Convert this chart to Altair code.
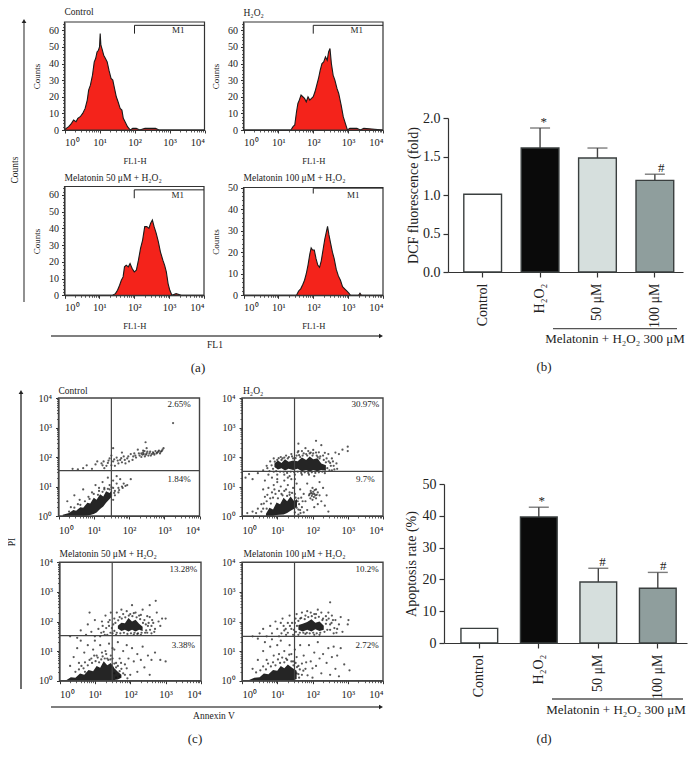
import altair as alt
import pandas as pd

SERIF = "Liberation Serif"
DARK = "#333333"

# ---------- (a) histograms: x = log10(FL1-H), y = counts ----------
H1_X = [0,0.05,0.12,0.2,0.26,0.33,0.38,0.45,0.52,0.59,0.65,0.69,0.74,0.8,0.85,0.89,0.93,0.97,1.0,1.02,1.04,1.07,1.12,1.17,1.22,1.27,1.33,1.38,1.42,1.48,1.53,1.59,1.64,1.68,1.73,1.8,1.88,1.95,2.05,2.15,2.3,2.45,2.6,2.7,4]
H1_Y = [0,1,2,4,6,5,7,8,10,13,18,24,27,33,41,43,47,48,50,58,51,49,45,43,41,36,31,30,26,20,17,13,12,7,5,2,0,1,1,0,1,1,1,0,0]
H2_X = [0,1.36,1.42,1.47,1.52,1.56,1.6,1.65,1.7,1.75,1.8,1.85,1.9,1.95,2.0,2.05,2.1,2.15,2.2,2.25,2.3,2.35,2.4,2.44,2.48,2.52,2.57,2.62,2.68,2.73,2.8,2.86,2.92,2.98,3.05,3.15,3.25,3.35,3.45,4]
H2_Y = [0,0,2,3,11,16,18,21,20,19,17,20,18,19,20,23,27,31,36,40,41,44,42,47,49,40,33,30,25,22,15,8,4,0,1,1,1,0,1,0]
H3_X = [0,1.38,1.46,1.52,1.58,1.63,1.68,1.72,1.77,1.83,1.88,1.94,2.0,2.06,2.12,2.18,2.24,2.3,2.36,2.42,2.47,2.52,2.57,2.63,2.69,2.75,2.82,2.87,2.92,2.97,3.02,3.08,3.2,3.35,4]
H3_Y = [0,0,1,3,6,9,11,17,18,17,19,16,14,15,21,28,33,41,41,40,43,45,41,37,32,26,21,18,14,7,3,0,1,0,0]
H4_X = [0,1.52,1.58,1.64,1.7,1.75,1.8,1.85,1.9,1.94,1.98,2.03,2.08,2.13,2.18,2.23,2.28,2.33,2.37,2.41,2.45,2.5,2.55,2.6,2.66,2.72,2.78,2.84,2.9,2.96,3.02,3.07,3.3,3.34,3.38,4]
H4_Y = [0,0,2,3,5,7,10,14,19,22,21,21,17,14,13,16,21,26,29,32,28,24,20,17,12,9,7,4,3,2,1,0,0,1,0,0]

# ---------- (b), (d) bars ----------
GROUPS = ["Control", "H₂O₂", "50 μM", "100 μM"]
BAR_COLORS = ["#ffffff", "#0a0a0a", "#d6dfdd", "#8f9e9d"]
B_VAL = [1.01, 1.61, 1.48, 1.19]
B_TOP = [None, 1.87, 1.61, 1.27]
B_MARK = ["", "*", "", "#"]
D_VAL = [4.6, 39.6, 19.2, 17.2]
D_TOP = [None, 42.7, 23.5, 22.2]
D_MARK = ["", "*", "#", "#"]

# ---------- (c) dot plots: log10(Annexin V), log10(PI) ----------
# dense masses as envelopes (x, lower, upper)
C1_CORE = [[(0.12,0,0.04),(0.3,0,0.1),(0.42,0,0.2),(0.5,0,0.18),(0.62,0,0.3),(0.7,0,0.28),(0.82,0.01,0.45),(0.9,0.03,0.42),(1.0,0.07,0.62),(1.08,0.12,0.55),(1.18,0.24,0.74),(1.27,0.32,0.66),(1.35,0.45,0.84),(1.45,0.58,0.78),(1.52,0.66,0.9)]]
C2_CORE = [[(0.68,0,0.08),(0.78,0,0.28),(0.88,0,0.22),(0.98,0.03,0.46),(1.08,0.04,0.4),(1.18,0.05,0.62),(1.28,0.1,0.5),(1.38,0.18,0.66),(1.48,0.25,0.5),(1.56,0.32,0.58)],
           [(0.92,1.66,1.78),(1.02,1.58,1.88),(1.12,1.62,1.8),(1.22,1.54,1.92),(1.32,1.6,1.84),(1.45,1.56,1.88),(1.58,1.6,1.86),(1.7,1.52,1.98),(1.82,1.56,1.9),(1.92,1.5,2.02),(2.02,1.56,1.92),(2.14,1.52,1.96),(2.25,1.56,1.78),(2.38,1.53,1.72)]]
C3_CORE = [[(0.2,0,0.02),(0.32,0,0.12),(0.45,0,0.1),(0.58,0,0.24),(0.7,0,0.2),(0.82,0,0.36),(0.95,0,0.32),(1.05,0,0.5),(1.15,0,0.44),(1.25,0,0.66),(1.35,0,0.52),(1.45,0,0.6),(1.55,0.02,0.42),(1.65,0.04,0.3),(1.75,0.1,0.2)],
           [(1.65,1.76,1.86),(1.75,1.68,1.96),(1.85,1.72,1.94),(1.95,1.66,2.12),(2.05,1.72,2.0),(2.15,1.66,2.06),(2.25,1.72,1.92),(2.35,1.68,1.82)]]
C4_CORE = [[(0.2,0,0.02),(0.35,0,0.1),(0.5,0,0.12),(0.62,0,0.24),(0.75,0,0.22),(0.88,0,0.36),(1.0,0,0.34),(1.1,0,0.5),(1.2,0,0.42),(1.3,0,0.55),(1.42,0,0.44),(1.55,0.06,0.34)],
           [(1.6,1.72,1.88),(1.72,1.66,1.92),(1.85,1.72,1.98),(1.97,1.66,2.08),(2.08,1.74,1.96),(2.2,1.68,2.0),(2.32,1.72,1.86)]]

C1_DOTS = [(0.4,1.6),(0.55,1.58),(0.7,1.62),(0.8,1.72),(0.95,1.6),(1.05,1.75),(1.1,1.85),(1.25,1.72),(1.3,1.62),(1.4,1.8),(1.45,1.95),(1.5,1.72),(1.55,1.85),(1.6,1.7),(1.65,1.98),(1.7,1.78),(1.75,1.9),(1.8,1.82),(1.85,2.02),(1.9,1.78),(1.95,1.95),(2.0,1.85),(2.05,2.1),(2.1,1.9),(2.15,2.12),(2.2,1.98),(2.25,2.25),(2.3,2.05),(2.35,2.0),(2.4,2.15),(2.42,2.1),(2.45,2.02),(2.5,2.3),(2.5,2.12),(2.55,2.05),(2.6,2.18),(2.65,2.1),(2.7,2.12),(2.75,2.2),(2.8,2.15),(2.85,2.22),(2.9,2.18),(2.95,2.25),(2.98,2.3),(3.25,3.15),(2.47,2.5),(1.55,2.3),(1.5,2.05),(1.8,2.15),
(1.22,1.78),(1.28,1.85),(1.36,1.7),(1.42,1.88),(1.58,1.92),(1.68,1.88),(1.78,1.96),(1.88,1.9),(1.98,2.02),(2.12,2.02),(2.18,2.05),(2.28,2.12),(2.38,2.08),(2.44,2.2),(2.52,2.18),(2.58,2.12),(2.62,2.05),(2.68,2.16),(2.72,2.08),(2.78,2.12),(2.83,2.18),(2.88,2.12),(2.93,2.2),(2.4,2.22),(2.35,2.12),(2.48,2.08),
(0.3,0.15),(0.25,0.5),(0.45,0.7),(0.6,0.55),(0.7,0.9),(0.85,0.65),(0.95,0.8),(1.05,1.05),(1.15,0.95),(1.25,1.15),(1.3,0.9),(1.4,1.3),(1.45,1.05),(1.55,0.95),(1.55,1.2),(1.6,0.85),(1.65,1.1),(1.7,0.95),(1.75,1.25),(1.8,1.0),(1.85,1.1),(1.95,1.05),(2.05,1.25),(1.6,0.7),(1.7,0.8),(1.55,0.55),(1.65,1.35),(0.55,0.4),(0.35,0.3),(1.0,0.75),(1.15,0.85),(1.3,0.95),(1.45,0.9),(1.12,0.72),(1.25,0.82),(1.4,0.92),(1.5,0.98),(0.75,0.5),(0.62,0.38),(0.45,0.28),(0.88,0.58),(1.58,0.78),(1.72,0.88),(1.82,0.95),(1.9,1.02)]
C2_DOTS = [(0.1,1.3),(0.2,1.42),(0.3,1.25),(0.45,1.45),(0.6,1.55),(0.65,1.2),(0.7,1.7),(0.75,1.4),(0.8,1.85),(0.85,1.3),(0.9,1.5),(0.9,1.95),(1.0,1.9),(1.0,1.4),(1.1,2.0),(1.15,1.95),(1.2,1.4),(1.25,2.05),(1.3,1.95),(1.35,1.35),(1.4,2.1),(1.45,1.95),(1.5,1.4),(1.55,2.05),(1.6,2.2),(1.65,2.0),(1.7,1.4),(1.75,2.12),(1.8,2.3),(1.85,2.05),(1.9,1.4),(1.95,2.15),(2.0,2.05),(2.05,1.35),(2.1,2.15),(2.15,2.0),(2.2,1.95),(2.25,2.4),(2.3,2.05),(2.35,1.45),(2.4,1.95),(2.45,2.1),(2.5,1.8),(2.55,1.95),(2.55,1.55),(2.6,1.7),(2.65,2.15),(2.75,2.1),(2.85,2.25),(3.0,2.2),(3.0,2.35),(2.1,2.55),(1.6,2.45),
(0.72,1.62),(0.78,1.52),(0.84,1.72),(0.88,1.6),(0.93,1.84),(0.97,1.52),(1.04,1.96),(1.08,1.5),(1.12,1.9),(1.18,1.5),(1.2,1.98),(1.28,1.46),(1.33,2.0),(1.38,1.5),(1.42,2.02),(1.48,1.48),(1.52,1.96),(1.58,1.5),(1.62,2.06),(1.68,1.46),(1.72,2.05),(1.78,1.48),(1.82,2.1),(1.88,1.46),(1.92,2.12),(1.98,1.48),(2.02,2.12),(2.08,1.46),(2.12,2.05),(2.18,1.48),(2.22,2.02),(2.28,1.5),(2.32,1.9),(2.38,1.82),(2.42,1.62),(2.46,1.85),(2.48,1.55),(2.52,1.7),(2.58,1.85),(2.62,1.58),(2.68,1.78),(2.7,1.6),(1.58,2.16),(1.7,2.2),(1.88,2.2),(2.02,2.24),(2.18,2.16),(2.35,2.14),
(0.15,0.1),(0.3,0.15),(0.4,0.1),(0.45,0.25),(0.55,0.4),(0.6,0.25),(0.6,0.9),(0.65,0.65),(0.7,0.5),(0.75,0.95),(0.8,0.6),(0.85,0.8),(0.9,1.05),(0.95,0.75),(1.0,1.15),(1.05,0.85),(1.1,1.0),(1.15,0.7),(1.2,1.2),(1.25,0.9),(1.3,1.05),(1.35,0.8),(1.4,1.25),(1.45,0.95),(1.5,0.75),(1.55,1.1),(1.6,0.6),(1.65,0.9),(1.7,0.3),(1.75,0.75),(1.8,0.5),(1.85,1.1),(1.85,0.2),(1.9,0.7),(1.95,0.85),(2.0,0.55),(2.0,0.95),(2.05,0.75),(2.05,0.3),(2.1,0.9),(2.1,0.6),(2.15,0.8),(2.15,0.4),(2.2,1.15),(2.2,0.7),(2.25,0.5),(2.3,0.95),(2.35,0.35),(2.4,0.7),(2.45,0.15),(1.92,0.75),(1.98,0.68),(2.02,0.82),(2.08,0.7),(1.65,0.2),(1.75,0.12),(1.6,0.05),(1.5,1.25),(1.3,1.3),(1.0,1.25),
(0.55,0.15),(0.62,0.42),(0.7,0.25),(0.72,0.72),(0.82,0.42),(0.88,0.62),(0.92,0.9),(1.02,0.6),(1.12,0.75),(1.2,0.85),(1.28,0.68),(1.35,0.72),(1.42,0.78),(1.52,0.62),(1.58,0.5),(1.62,0.4),(1.68,0.62),(1.72,0.5),(1.6,0.22),(1.66,0.1),(1.5,0.12),(1.55,0.28),(1.94,0.6),(1.96,0.78),(2.04,0.64),(2.06,0.88),(2.12,0.72),(2.0,0.75)]
C3_DOTS = [(0.3,1.5),(0.5,1.45),(0.6,1.7),(0.75,1.55),(0.8,1.9),(0.85,2.3),(0.9,1.65),(1.0,1.5),(1.0,2.05),(1.1,1.75),(1.15,1.5),(1.2,2.0),(1.25,1.65),(1.3,2.2),(1.35,1.55),(1.4,1.85),(1.42,2.05),(1.45,2.3),(1.5,1.6),(1.52,1.9),(1.55,2.1),(1.6,1.55),(1.62,2.3),(1.7,2.15),(1.75,2.4),(1.8,2.25),(1.9,2.35),(2.0,2.25),(2.05,2.55),(2.15,2.3),(2.25,2.2),(2.35,2.4),(2.4,2.05),(2.45,1.7),(2.5,1.85),(2.55,2.55),(2.55,2.15),(2.6,1.6),(2.65,1.95),(2.7,1.75),(2.75,2.3),(2.8,2.0),(2.85,1.85),(2.9,2.1),(3.0,2.1),(2.72,2.7),(2.3,1.55),(2.2,1.58),(2.1,1.56),
(1.18,1.62),(1.22,1.85),(1.28,1.55),(1.32,1.78),(1.38,1.98),(1.44,1.62),(1.48,1.78),(1.55,1.68),(1.58,1.95),(1.62,1.62),(1.66,2.04),(1.72,1.6),(1.76,2.1),(1.82,1.62),(1.86,2.14),(1.92,1.58),(1.96,2.2),(2.02,1.6),(2.06,2.18),(2.12,1.62),(2.18,2.14),(2.22,1.6),(2.28,2.08),(2.32,1.62),(2.36,1.95),(2.42,1.62),(2.44,1.9),(2.48,1.62),(2.52,1.95),(2.56,1.72),(2.6,1.85),(2.62,2.05),(2.68,1.65),(2.48,2.18),(2.3,2.22),(2.1,2.28),
(0.3,0.5),(0.4,0.8),(0.5,1.1),(0.55,0.6),(0.6,1.35),(0.7,0.95),(0.8,1.2),(0.9,0.75),(0.95,1.05),(1.0,1.35),(1.05,0.85),(1.15,1.2),(1.2,0.95),(1.3,1.0),(1.35,0.75),(1.4,1.25),(1.45,0.85),(1.55,1.05),(1.6,0.6),(1.65,1.3),(1.7,0.75),(1.75,0.4),(1.8,1.0),(1.85,0.55),(1.9,1.2),(1.95,0.75),(2.0,0.2),(2.05,1.1),(2.1,0.65),(2.2,0.3),(2.2,0.9),(2.3,0.7),(2.35,1.15),(2.4,0.45),(2.5,0.85),(2.55,0.2),(2.6,0.7),(2.7,0.95),(2.85,0.7),(3.0,0.65),(1.55,0.25),(1.6,0.1),(1.7,0.15),(1.5,0.45),
(0.45,0.3),(0.55,0.38),(0.62,0.5),(0.68,0.42),(0.72,0.62),(0.8,0.52),(0.85,0.7),(0.92,0.6),(0.98,0.85),(1.02,0.66),(1.08,0.78),(1.12,0.62),(1.18,0.72),(1.22,0.82),(1.28,0.75),(1.32,0.9),(1.38,0.7),(1.44,0.72),(1.5,0.75),(1.55,0.58),(1.6,0.45),(1.65,0.5),(1.7,0.32),(1.74,0.6),(1.8,0.25),(1.85,0.2),(1.9,0.42),(1.5,1.1),(0.72,0.3),(1.92,0.08)]
C4_DOTS = [(0.3,1.5),(0.45,1.42),(0.5,1.6),(0.6,1.75),(0.7,1.5),(0.8,1.85),(0.85,1.6),(0.95,2.0),(1.0,1.75),(1.05,1.5),(1.1,1.95),(1.15,2.1),(1.2,1.7),(1.25,1.55),(1.3,1.95),(1.35,2.2),(1.4,1.75),(1.45,1.55),(1.5,1.95),(1.52,2.1),(1.55,2.25),(1.6,1.55),(1.65,2.1),(1.7,2.3),(1.8,2.2),(1.85,2.35),(1.95,2.3),(2.05,2.25),(2.15,2.4),(2.25,2.3),(2.3,2.1),(2.4,2.05),(2.45,2.3),(2.5,2.65),(2.5,1.9),(2.55,2.2),(2.6,1.6),(2.65,2.05),(2.7,1.75),(2.75,1.9),(2.8,2.15),(2.85,1.65),(3.0,1.9),(3.02,2.05),(2.05,1.55),(2.2,1.55),(1.8,1.58),
(1.12,1.6),(1.18,1.85),(1.24,1.75),(1.3,1.62),(1.36,1.85),(1.42,1.95),(1.47,1.72),(1.53,1.65),(1.56,1.85),(1.6,2.02),(1.64,1.62),(1.68,2.12),(1.74,1.62),(1.78,2.08),(1.84,1.62),(1.88,2.15),(1.92,1.6),(1.98,2.18),(2.02,1.62),(2.08,2.12),(2.12,1.6),(2.18,2.16),(2.22,1.62),(2.28,2.05),(2.34,1.65),(2.38,1.92),(2.42,1.72),(2.46,2.1),(2.5,1.72),(2.54,1.95),(2.58,2.05),(2.62,1.78),(2.68,1.62),(2.38,2.18),(2.1,2.25),
(0.3,0.4),(0.45,0.7),(0.6,1.0),(0.65,1.3),(0.7,0.7),(0.8,1.15),(0.85,1.4),(0.9,0.85),(1.0,1.2),(1.05,0.9),(1.1,1.35),(1.2,1.0),(1.25,0.75),(1.35,1.2),(1.4,0.9),(1.45,0.65),(1.5,1.05),(1.55,0.8),(1.6,0.5),(1.65,1.2),(1.7,0.2),(1.75,0.85),(1.8,0.4),(1.9,1.2),(1.95,0.65),(2.0,0.1),(2.05,0.95),(2.1,0.5),(2.15,1.3),(2.2,0.75),(2.25,0.25),(2.3,0.9),(2.4,0.6),(2.45,1.1),(2.5,0.2),(2.55,0.8),(2.6,1.15),(2.65,0.4),(2.7,0.85),(2.75,0.15),(2.8,1.1),(2.9,0.55),(3.05,0.35),(1.55,0.25),(1.62,0.1),
(0.4,0.28),(0.52,0.35),(0.6,0.48),(0.68,0.38),(0.74,0.58),(0.82,0.48),(0.88,0.62),(0.95,0.52),(1.02,0.72),(1.08,0.6),(1.14,0.78),(1.2,0.62),(1.28,0.7),(1.34,0.88),(1.4,0.65),(1.46,0.52),(1.52,0.6),(1.56,0.46),(1.6,0.22),(1.64,0.38),(1.7,0.58),(1.74,0.34),(1.82,0.62),(1.86,0.18),(2.0,0.42)]

DECADE_LABELS = "['10⁰','10¹','10²','10³','10⁴'][datum.value]"
MINOR_LOG = [k + m for k in range(4) for m in (0.301, 0.477, 0.602, 0.699, 0.778, 0.845, 0.903, 0.954)]


def P(v):
    """Page pixel -> plot pixel (the page has an 8px margin)."""
    return v - 8


PLOT_W, PLOT_H = 681, 749


def frame(x0, x1, y0, y1, xs, ys, color=DARK, w=1.2):
    df = pd.DataFrame({"a": [x0], "b": [x1], "c": [y0], "d": [y1]})
    return alt.Chart(df).mark_rect(fill=None, stroke=color, strokeWidth=w).encode(
        x=alt.X("a:Q", scale=xs, axis=None), x2="b:Q",
        y=alt.Y("c:Q", scale=ys, axis=None), y2="d:Q")


def axes_layer(x0, x1, y0, y1, xs, ys, xy_px, ticks_y, minor_y, ylabels=None, xtitle=None, ytitle=None, xlabpad=5, ypad=3, ytitlepad=6):
    px_x, px_y = xy_px
    df = pd.DataFrame({"a": [x0], "c": [y0]})
    common = dict(grid=False, labelFont=SERIF, labelColor="#222222", titleFont=SERIF, titleColor="#222222",
                  titleFontWeight="normal", domainColor=DARK, tickColor=DARK)
    xa = alt.Axis(orient="bottom", offset=-(PLOT_H - P(px_y)), values=[0, 1, 2, 3, 4], labelExpr=DECADE_LABELS,
                  labelFontSize=10.5, labelPadding=xlabpad, tickSize=3, title=xtitle, titleFontSize=8.5, titlePadding=9,
                  **common)
    ya = alt.Axis(orient="left", offset=-P(px_x), values=ticks_y, labelFontSize=10, tickSize=3, labelPadding=ypad,
                  title=ytitle, titleFontSize=9, titlePadding=ytitlepad,
                  **({"labelExpr": ylabels} if ylabels else {}), **common)
    main = alt.Chart(df).mark_point(opacity=0).encode(
        x=alt.X("a:Q", scale=xs, axis=xa), y=alt.Y("c:Q", scale=ys, axis=ya))
    xm = alt.Axis(orient="bottom", offset=-(PLOT_H - P(px_y)), values=MINOR_LOG, labels=False, title=None, grid=False,
                  tickSize=2, domain=False, tickColor=DARK, tickWidth=0.8)
    ym = alt.Axis(orient="left", offset=-P(px_x), values=minor_y, labels=False, title=None, grid=False,
                  tickSize=2, domain=False, tickColor=DARK, tickWidth=0.8)
    minor = alt.Chart(df).mark_point(opacity=0).encode(
        x=alt.X("a:Q", scale=xs, axis=xm), y=alt.Y("c:Q", scale=ys, axis=ym))
    return [main, minor]


def hist_panel(xs_list, ys_list, rx, ry, ymax, ticks, gate_y, gate_drop, m1_x, m1_y):
    xs = alt.Scale(domain=[0, 4], range=[P(rx[0]), P(rx[1])])
    ys = alt.Scale(domain=[0, ymax], range=[P(ry[0]), P(ry[1])])
    df = pd.DataFrame({"x": xs_list, "y": ys_list})
    X = alt.X("x:Q", scale=xs, axis=None)
    Y = alt.Y("y:Q", scale=ys, axis=None)
    area = alt.Chart(df).mark_area(color="#f4231b", interpolate="linear").encode(x=X, y=Y)
    line = alt.Chart(df).mark_line(color="#1a1a1a", strokeWidth=1.1, interpolate="linear").encode(x=X, y=Y)
    layers = [area, line, frame(0, 4, 0, ymax, xs, ys)]
    gate = pd.DataFrame({"a": [2, 2], "b": [4, 2], "c": [gate_y, gate_y], "d": [gate_y, gate_y - gate_drop]})
    layers.append(alt.Chart(gate).mark_rule(color="#222222", strokeWidth=1).encode(
        x=alt.X("a:Q", scale=xs, axis=None), x2="b:Q", y=alt.Y("c:Q", scale=ys, axis=None), y2="d:Q"))
    lbl = pd.DataFrame({"a": [m1_x], "c": [m1_y], "t": ["M1"]})
    layers.append(alt.Chart(lbl).mark_text(font=SERIF, fontSize=9, color="#222222").encode(
        x=alt.X("a:Q", scale=xs, axis=None), y=alt.Y("c:Q", scale=ys, axis=None), text="t:N"))
    minor = [v for v in range(0, ymax + 1, 2) if v not in ticks]
    layers += axes_layer(0, 4, 0, ymax, xs, ys, (rx[0], ry[0]), ticks, minor, xtitle="FL1-H", ytitle="Counts",
                         xlabpad=4, ytitlepad=7)
    return layers


def dot_panel(dots, cores, rx, ry, texts, qx=1.5, qy=1.5):
    xs = alt.Scale(domain=[0, 4], range=[P(rx[0]), P(rx[1])])
    ys = alt.Scale(domain=[0, 4], range=[P(ry[0]), P(ry[1])])
    layers = []
    for mass in cores:
        mf = pd.DataFrame(mass, columns=["x", "lo", "hi"])
        layers.append(alt.Chart(mf).mark_area(color="#0d0d0d", interpolate="linear", opacity=0.9).encode(
            x=alt.X("x:Q", scale=xs, axis=None), y=alt.Y("lo:Q", scale=ys, axis=None), y2="hi:Q"))
    df = pd.DataFrame(dots, columns=["x", "y"])
    layers.append(alt.Chart(df).mark_circle(color="#111111", size=5, opacity=0.7).encode(
        x=alt.X("x:Q", scale=xs, axis=None), y=alt.Y("y:Q", scale=ys, axis=None)))
    layers.append(frame(0, 4, 0, 4, xs, ys, color="#444444", w=1.4))
    q = pd.DataFrame({"a": [qx, 0], "b": [qx, 4], "c": [0, qy], "d": [4, qy]})
    layers.append(alt.Chart(q).mark_rule(color="#444444", strokeWidth=1.2).encode(
        x=alt.X("a:Q", scale=xs, axis=None), x2="b:Q", y=alt.Y("c:Q", scale=ys, axis=None), y2="d:Q"))
    tf = pd.DataFrame(texts, columns=["a", "c", "t"])
    layers.append(alt.Chart(tf).mark_text(font=SERIF, fontSize=9, color="#222222").encode(
        x=alt.X("a:Q", scale=xs, axis=None), y=alt.Y("c:Q", scale=ys, axis=None), text="t:N"))
    layers += axes_layer(0, 4, 0, 4, xs, ys, (rx[0], ry[0]), [0, 1, 2, 3, 4], MINOR_LOG, ylabels=DECADE_LABELS,
                         xlabpad=6, ypad=4)
    return layers


def bar_panel(vals, tops, marks, rx, ry, ymax, ticks, fmt, ytitle, inner, outer, align, cap, title_pad):
    xs = alt.Scale(domain=GROUPS, range=[P(rx[0]), P(rx[1])], paddingInner=inner, paddingOuter=outer, align=align)
    ys = alt.Scale(domain=[0, ymax], range=[P(ry[0]), P(ry[1])])
    df = pd.DataFrame({"g": GROUPS, "v": vals, "top": tops, "m": marks})
    eb = df[df["top"].notna()]
    X0 = alt.X("g:N", scale=xs, axis=None)
    Y0 = alt.Y("v:Q", scale=ys, axis=None)
    layers = []
    layers.append(alt.Chart(eb).mark_rule(color="#444444", strokeWidth=1.4).encode(
        x=X0, y=Y0, y2="top:Q"))
    layers.append(alt.Chart(eb).mark_tick(color="#444444", thickness=1.4, size=cap, orient="horizontal").encode(
        x=X0, y=alt.Y("top:Q", scale=ys, axis=None)))
    xa = alt.Axis(orient="bottom", offset=-(PLOT_H - P(ry[0])), labelAngle=270, labelFont=SERIF, labelFontSize=14,
                  labelColor="#222222", labelPadding=6, tickSize=5, title=None, grid=False, domainColor=DARK,
                  tickColor=DARK, domainWidth=1.2, tickWidth=1.2, labelBaseline="middle", labelAlign="right")
    ya = alt.Axis(orient="left", offset=-P(rx[0]), values=ticks, format=fmt, labelFont=SERIF, labelFontSize=14,
                  labelColor="#222222", labelPadding=3, tickSize=5, title=ytitle, titleFont=SERIF, titleFontSize=14,
                  titleFontWeight="normal", titleColor="#222222", titlePadding=title_pad, grid=False,
                  domainColor=DARK, tickColor=DARK, domainWidth=1.2, tickWidth=1.2)
    layers.append(alt.Chart(df).mark_bar(stroke="#3a3f3f", strokeWidth=1.4).encode(
        x=alt.X("g:N", scale=xs, axis=xa),
        y=alt.Y("v:Q", scale=ys, axis=ya),
        color=alt.Color("g:N", scale=alt.Scale(domain=GROUPS, range=BAR_COLORS), legend=None)))
    star = df[df["m"] != ""]
    layers.append(alt.Chart(star).mark_text(font=SERIF, fontSize=13, color="#222222", dy=-6).encode(
        x=X0, y=alt.Y("top:Q", scale=ys, axis=None), text="m:N"))
    return layers


ONE = pd.DataFrame({"k": [0]})


def label(text, x, y, size=9.5, angle=None, align="center"):
    kw = dict(font=SERIF, fontSize=size, color="#222222", text=text, align=align, baseline="middle")
    if angle is not None:
        kw["angle"] = angle
    return alt.Chart(ONE).mark_text(**kw).encode(x=alt.value(P(x)), y=alt.value(P(y)))


def hrule(x0, x1, y, w=1.3, color="#555555"):
    return alt.Chart(ONE).mark_rule(color=color, strokeWidth=w).encode(
        x=alt.value(P(x0)), x2=alt.value(P(x1)), y=alt.value(P(y)))


def vrule(x, y0, y1, w=1.3, color="#555555"):
    return alt.Chart(ONE).mark_rule(color=color, strokeWidth=w).encode(
        x=alt.value(P(x)), y=alt.value(P(y0)), y2=alt.value(P(y1)))


def arrow(x, y, shape, color="#222222"):
    return alt.Chart(ONE).mark_point(shape=shape, filled=True, size=22, color=color, opacity=1).encode(
        x=alt.value(P(x)), y=alt.value(P(y)))


layers = []
layers += hist_panel(H1_X, H1_Y, (64.5, 204.5), (130, 22), 65, [0, 10, 20, 30, 40, 50, 60], 63, 5, 3.25, 60)
layers += hist_panel(H2_X, H2_Y, (243.5, 383), (130, 22), 65, [0, 10, 20, 30, 40, 50, 60], 63, 5, 3.25, 60)
layers += hist_panel(H3_X, H3_Y, (64.5, 204), (295.3, 186.5), 65, [0, 10, 20, 30, 40, 50, 60], 63, 5, 3.25, 60)
layers += hist_panel(H4_X, H4_Y, (243.5, 383), (295.3, 187.5), 50, [0, 10, 20, 30, 40, 50], 49.7, 2.5, 3.15, 46.5)

layers += dot_panel(C1_DOTS, C1_CORE, (58.5, 199.5), (516, 398),
                    [(3.42, 3.78, "2.65%"), (3.42, 1.27, "1.84%")], qx=1.5, qy=1.54)
layers += dot_panel(C2_DOTS, C2_CORE, (242, 383), (516, 398),
                    [(3.5, 3.78, "30.97%"), (3.5, 1.27, "9.7%")], qx=1.49, qy=1.51)
layers += dot_panel(C3_DOTS, C3_CORE, (59.5, 201), (680.7, 562.3),
                    [(3.5, 3.78, "13.28%"), (3.5, 1.2, "3.38%")], qx=1.49, qy=1.52)
layers += dot_panel(C4_DOTS, C4_CORE, (242, 383), (680.7, 562.3),
                    [(3.55, 3.78, "10.2%"), (3.55, 1.2, "2.72%")], qx=1.49, qy=1.5)

layers += bar_panel(B_VAL, B_TOP, B_MARK, (448, 683), (272, 118), 2.0, [0, 0.5, 1.0, 1.5, 2.0], ".1f",
                    "DCF fluorescence (fold)", 0.343, 0.2185, 0.63, 20, 2)
layers += bar_panel(D_VAL, D_TOP, D_MARK, (444, 687), (643, 484), 50, [0, 10, 20, 30, 40, 50], "d",
                    "Apoptosis rate (%)", 0.383, 0.2335, 0.61, 20, 4)

layers += [
    label("Control", 64.5, 11.5, align="left"),
    label("H₂O₂", 243.5, 12.5, align="left"),
    label("Melatonin 50 μM + H₂O₂", 64.5, 177.5, align="left"),
    label("Melatonin 100 μM + H₂O₂", 243.5, 177.5, align="left"),
    label("Counts", 15, 170, angle=270),
    label("FL1", 215, 345),
    label("(a)", 198, 368, size=13),
    label("(b)", 544, 367, size=13),
    label("Control", 58.5, 390.5, align="left"),
    label("H₂O₂", 243, 390.5, align="left"),
    label("Melatonin 50 μM + H₂O₂", 59.5, 553.5, align="left"),
    label("Melatonin 100 μM + H₂O₂", 243.5, 553.5, align="left"),
    label("PI", 12, 542, angle=270),
    label("Annexin V", 214, 716),
    label("(c)", 195, 739, size=13),
    label("(d)", 544, 739, size=13),
    label("Melatonin + H₂O₂ 300 μM", 615, 339, size=13),
    label("Melatonin + H₂O₂ 300 μM", 616, 710, size=13),
    hrule(553, 677, 328.7), hrule(552, 683, 699),
    vrule(24, 23, 302), arrow(24, 21, "triangle-up"),
    hrule(51, 380, 336), arrow(381, 336, "triangle-right"),
    vrule(21, 394, 689, color="#222222"), arrow(21, 392, "triangle-up"),
    hrule(51, 380, 707), arrow(381, 707, "triangle-right"),
]

chart = alt.layer(*layers).resolve_scale(x="independent", y="independent").resolve_axis(
    x="independent", y="independent"
).properties(
    width=PLOT_W, height=PLOT_H, padding=0, autosize=alt.AutoSizeParams(type="none")
).configure_view(stroke=None)

chart.save("out.html", embed_options={"renderer": "svg", "actions": False})
